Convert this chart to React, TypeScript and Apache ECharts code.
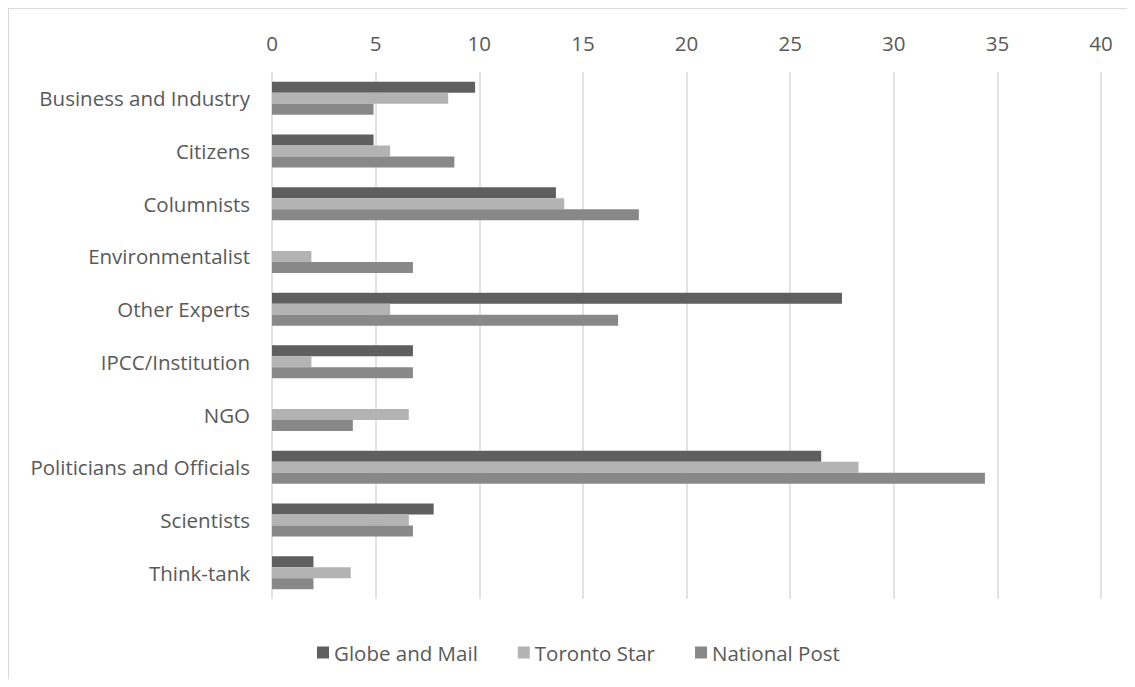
import React, { useEffect, useRef } from "react";
import * as echarts from "echarts";

const categories = [
  "Business and Industry",
  "Citizens",
  "Columnists",
  "Environmentalist",
  "Other Experts",
  "IPCC/Institution",
  "NGO",
  "Politicians and Officials",
  "Scientists",
  "Think-tank",
];

const globeAndMail = [9.8, 4.9, 13.7, 0, 27.5, 6.8, 0, 26.5, 7.8, 2.0];
const torontoStar = [8.5, 5.7, 14.1, 1.9, 5.7, 1.9, 6.6, 28.3, 6.6, 3.8];
const nationalPost = [4.9, 8.8, 17.7, 6.8, 16.7, 6.8, 3.9, 34.4, 6.8, 2.0];

const xTicks = { min: 0, max: 40, interval: 5 };

const FONT = "'Open Sans', Lato, sans-serif";
const TEXT = "#595959";
const FS = 20.5;

export default function App() {
  const ref = useRef<HTMLDivElement>(null);

  useEffect(() => {
    if (!ref.current) return;
    const chart = echarts.init(ref.current, undefined, { renderer: "svg" });
    const mk = (name: string, data: number[], color: string) => ({
      name,
      type: "bar",
      data,
      barWidth: 11,
      barGap: "0%",
      itemStyle: { color },
    });
    chart.setOption({
      animation: false,
      backgroundColor: "#ffffff",
      textStyle: { fontFamily: FONT },
      legend: {
        bottom: 10,
        left: 303,
        itemWidth: 12,
        itemHeight: 12,
        itemGap: 40,
        icon: "rect",
        textStyle: { color: TEXT, fontSize: FS, fontFamily: FONT },
        data: ["Globe and Mail", "Toronto Star", "National Post"],
      },
      grid: { left: 263, right: 25, top: 63, bottom: 79, containLabel: false },
      xAxis: {
        type: "value",
        position: "top",
        min: xTicks.min,
        max: xTicks.max,
        interval: xTicks.interval,
        axisLine: { show: false },
        axisTick: { show: false },
        axisLabel: { color: TEXT, fontSize: FS, fontFamily: FONT, margin: 19 },
        splitLine: { show: true, lineStyle: { color: "#d9d9d9", width: 1.5 } },
      },
      yAxis: {
        type: "category",
        inverse: true,
        data: categories,
        axisLine: { show: false },
        axisTick: { show: false },
        axisLabel: { color: TEXT, fontSize: FS, fontFamily: FONT, margin: 22 },
      },
      series: [
        mk("Globe and Mail", globeAndMail, "#5f5f5f"),
        mk("Toronto Star", torontoStar, "#b3b3b3"),
        mk("National Post", nationalPost, "#888888"),
      ],
    });
    return () => chart.dispose();
  }, []);

  return (
    <div
      style={{
        width: 1119,
        height: 671,
        borderTop: "1.5px solid #d9d9d9",
        borderLeft: "1.5px solid #d9d9d9",
        boxSizing: "border-box",
      }}
    >
      <div ref={ref} style={{ width: 1117, height: 669 }} />
    </div>
  );
}
